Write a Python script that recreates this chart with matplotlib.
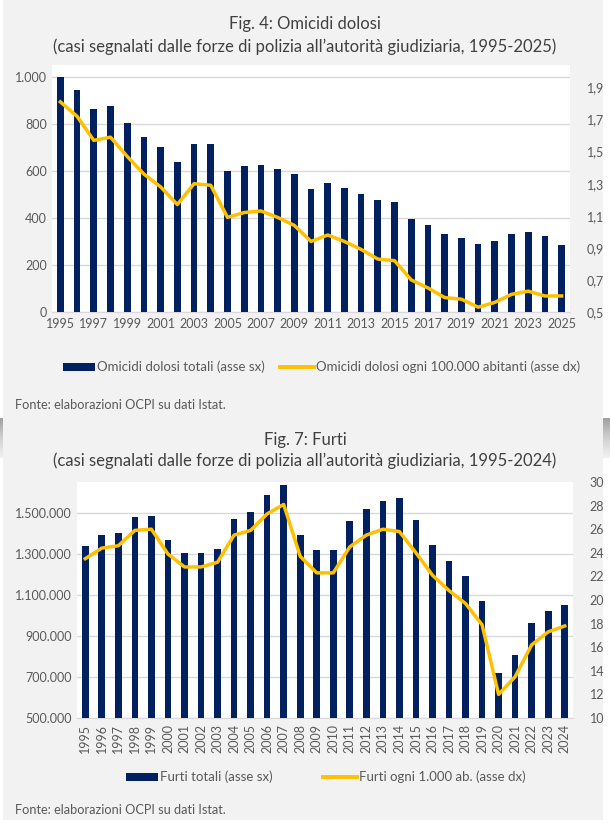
import numpy as np
import matplotlib
matplotlib.use("Agg")
import matplotlib.pyplot as plt
from matplotlib.patches import Rectangle
from matplotlib.lines import Line2D
from matplotlib.ticker import FuncFormatter

plt.rcParams['font.family'] = ['Lato', 'DejaVu Sans']

# Fig. 4 - omicidi dolosi
anni_om = list(range(1995, 2026))
omicidi_totali = [1000, 943, 861, 875, 805, 744, 702, 638, 713, 713,
                  600, 622, 625, 610, 587, 525, 549, 529, 502, 475,
                  468, 396, 368, 330, 315, 287, 303, 330, 340, 325, 283]
omicidi_100k = [1.81, 1.72, 1.57, 1.59, 1.47, 1.36, 1.28, 1.17, 1.30, 1.29,
                1.09, 1.12, 1.13, 1.09, 1.04, 0.94, 0.98, 0.94, 0.89, 0.83,
                0.82, 0.70, 0.65, 0.59, 0.58, 0.53, 0.56, 0.61, 0.63, 0.60, 0.60]

# Fig. 7 - furti
anni_fu = list(range(1995, 2025))
furti_totali = [1336600, 1391600, 1399700, 1477300, 1482200, 1365700, 1302600, 1302600,
                1325200, 1467600, 1504900, 1587400, 1637500, 1391600, 1318800, 1320000,
                1459500, 1519400, 1555000, 1574400, 1462800, 1344700, 1267000, 1190900,
                1068000, 718400, 807400, 961200, 1021000, 1050200]
furti_1000 = [23.5, 24.4, 24.6, 25.9, 26.0, 23.9, 22.8, 22.8, 23.2, 25.5,
              25.9, 27.3, 28.1, 23.7, 22.3, 22.3, 24.5, 25.5, 26.0, 25.8,
              24.0, 22.1, 20.8, 19.7, 17.9, 12.0, 13.5, 16.2, 17.3, 17.8]

NAVY = "#002060"
GIALLO = "#FFC000"
GRIGIO_TXT = "#595959"
GRIGIO_GRID = "#d9d9d9"
SFONDO = "#f2f2f2"

W, H = 610, 827
fig = plt.figure(figsize=(W / 100, H / 100), dpi=100)
fig.patch.set_facecolor("white")

def box(x0, y0, x1, y1):
    # pixel -> frazione figura
    return [x0 / W, 1 - y1 / H, (x1 - x0) / W, (y1 - y0) / H]

# sfondi pannelli
fig.patches.append(Rectangle((3 / W, 1 - 418 / H), 600 / W, 418 / H,
                             transform=fig.transFigure, facecolor=SFONDO, edgecolor="none", zorder=0))
fig.patches.append(Rectangle((3 / W, 1 - 820 / H), 600 / W, 402 / H,
                             transform=fig.transFigure, facecolor=SFONDO, edgecolor="none", zorder=0))
# sfumatura in alto al secondo pannello
ax_g = fig.add_axes(box(0, 418, 610, 458), zorder=0)
grad = np.linspace(0, 1, 64).reshape(-1, 1)
ax_g.imshow(grad, aspect="auto", cmap=matplotlib.colors.LinearSegmentedColormap.from_list(
    "g", ["#a0a0a0", "#d0d0d0", SFONDO]), extent=[0, 1, 0, 1], origin="upper")
ax_g.axis("off")

FS = 9


def pannello(pos, anni, barre, linea, ylim_sx, yticks_sx, ylim_dx, yticks_dx,
             fmt_sx, fmt_dx, ruota):
    ax = fig.add_axes(pos, zorder=2)
    ax.set_facecolor("white")
    x = np.arange(len(anni))
    ax.bar(x, barre, width=0.4, color=NAVY, zorder=3)
    ax.set_xlim(-0.5, len(anni) - 0.5)
    ax.set_ylim(*ylim_sx)
    ax.set_yticks(yticks_sx)
    ax.yaxis.set_major_formatter(FuncFormatter(fmt_sx))
    ax.grid(axis="y", color=GRIGIO_GRID, linewidth=1, zorder=0)
    for s in ["top", "right", "left"]:
        ax.spines[s].set_visible(False)
    ax.spines["bottom"].set_color(GRIGIO_GRID)
    ax.tick_params(axis="both", length=0, colors=GRIGIO_TXT, labelsize=FS)
    if ruota:
        ax.set_xticks(x)
        ax.set_xticklabels([str(a) for a in anni], rotation=90, fontsize=FS)
    else:
        ax.set_xticks(x[::2])
        ax.set_xticklabels([str(a) for a in anni[::2]], fontsize=FS)
    ax.tick_params(axis="x", pad=4)
    ax2 = ax.twinx()
    ax2.plot(x, linea, color=GIALLO, linewidth=2.5, zorder=4, solid_joinstyle="round")
    ax2.set_ylim(*ylim_dx)
    ax2.set_yticks(yticks_dx)
    ax2.yaxis.set_major_formatter(FuncFormatter(fmt_dx))
    for s in ax2.spines.values():
        s.set_visible(False)
    ax2.tick_params(axis="y", length=0, colors=GRIGIO_TXT, labelsize=FS, pad=12)
    return ax, ax2


def punti(v, pos):
    return f"{int(round(v)):,}".replace(",", ".")


def virgola(v, pos):
    return f"{v:.1f}".replace(".", ",")


def intero(v, pos):
    return f"{int(round(v))}"


pannello(box(52, 65, 570, 312), anni_om, omicidi_totali, omicidi_100k,
         (0, 1050), range(0, 1001, 200), (0.5, 2.04), np.arange(0.5, 1.91, 0.2),
         punti, virgola, False)
pannello(box(77, 482, 573, 718), anni_fu, furti_totali, furti_1000,
         (500000, 1650000), range(500000, 1500001, 200000), (10, 30), range(10, 31, 2),
         punti, intero, True)

# titoli
TC = "#404040"
fig.text(305 / W, 1 - 24 / H, "Fig. 4: Omicidi dolosi", ha="center", va="center",
         fontsize=12, color=TC)
fig.text(305 / W, 1 - 47 / H,
         "(casi segnalati dalle forze di polizia all\u2019autorità giudiziaria, 1995-2025)",
         ha="center", va="center", fontsize=12, color=TC)
fig.text(305 / W, 1 - 440 / H, "Fig. 7: Furti", ha="center", va="center",
         fontsize=12, color=TC)
fig.text(305 / W, 1 - 461 / H,
         "(casi segnalati dalle forze di polizia all\u2019autorità giudiziaria, 1995-2024)",
         ha="center", va="center", fontsize=12, color=TC)

# legende
def legenda(y, x_rect, etich_barre, x_line, etich_linea):
    fig.patches.append(Rectangle((x_rect / W, 1 - (y + 4) / H), 32 / W, 8 / H,
                                 transform=fig.transFigure, facecolor=NAVY, edgecolor="none", zorder=3))
    fig.text((x_rect + 34) / W, 1 - y / H, etich_barre, ha="left", va="center",
             fontsize=9.5, color=GRIGIO_TXT)
    fig.lines.append(Line2D([x_line / W, (x_line + 34) / W], [1 - y / H, 1 - y / H],
                            transform=fig.transFigure, color=GIALLO, linewidth=2.8))
    fig.text((x_line + 36) / W, 1 - y / H, etich_linea, ha="left", va="center",
             fontsize=9.5, color=GRIGIO_TXT)


legenda(367, 63, "Omicidi dolosi totali (asse sx)", 280,
        "Omicidi dolosi ogni 100.000 abitanti (asse dx)")
legenda(777, 126, "Furti totali (asse sx)", 323, "Furti ogni 1.000 ab. (asse dx)")

fig.text(15 / W, 1 - 405 / H, "Fonte: elaborazioni OCPI su dati Istat.", ha="left",
         va="center", fontsize=9.2, color=GRIGIO_TXT)
fig.text(15 / W, 1 - 810 / H, "Fonte: elaborazioni OCPI su dati Istat.", ha="left",
         va="center", fontsize=9.2, color=GRIGIO_TXT)

fig.savefig("out.png", dpi=100)
